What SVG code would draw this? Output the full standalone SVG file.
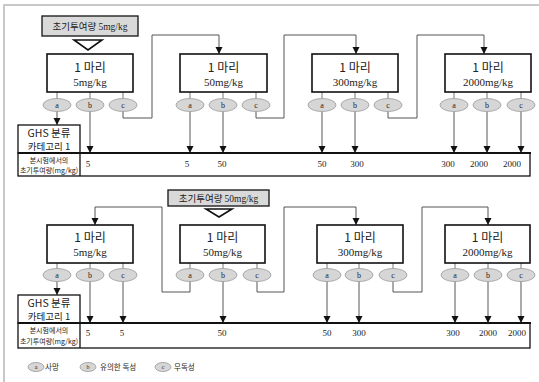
<svg xmlns="http://www.w3.org/2000/svg" width="539" height="382" viewBox="0 0 539 382">
<style>
.frame{fill:#fff;stroke:#c8c8c8;stroke-width:2}
.box{fill:#fff;stroke:#111;stroke-width:1.6}
.lbl{fill:#d9d9d9;stroke:#222;stroke-width:1.4}
.tri{fill:#fff;stroke:#111;stroke-width:1.6}
.ell{fill:#d6d6d6;stroke:#999;stroke-width:0.8}
.tick{stroke:#777;stroke-width:1;fill:none}
.con{stroke:#555;stroke-width:1;fill:none;marker-end:url(#ah)}
.arr{stroke:#666;stroke-width:1.1;fill:none;marker-end:url(#ah)}
.bar{fill:#fff;stroke:#111;stroke-width:1.3}
.thick{stroke:#111;stroke-width:2.2}
.t{font-family:"Liberation Serif","Noto Sans CJK KR",serif;fill:#222;text-anchor:middle}
.k{font-family:"Noto Sans CJK KR","Liberation Sans",sans-serif;fill:#222;text-anchor:middle}
.n1{font-size:12px}
.n2{font-size:11px}
.g1{font-size:10.5px}
.g2{font-size:9.5px}
.lt{font-size:9.5px}
.v{font-size:9px}
.e{font-size:8px}
.s{font-size:7px}
.lg{font-size:7.5px;text-anchor:start}
</style>
<defs>
<marker id="ah" markerWidth="8" markerHeight="8" refX="7" refY="3.5" orient="auto" markerUnits="userSpaceOnUse">
<path d="M0,0 L7,3.5 L0,7 Z" fill="#111"/>
</marker>
</defs>
<rect class="frame" x="4" y="5" width="540" height="382"/>

<g id="connectors">
<path class="tick" d="M57,92V98.5M90,92V98.5M123,92V98.5M190,92V98.5M223,92V98.5M256,92V98.5M322,92V98.5M355,92V98.5M388,92V98.5M454,92V98.5M487,92V98.5M521,92V98.5"/>
<path class="arr" d="M57,111.5V125"/>
<path class="arr" d="M90,111.5V153"/>
<path class="arr" d="M190,111.5V153"/>
<path class="arr" d="M223,111.5V153"/>
<path class="arr" d="M322,111.5V153"/>
<path class="arr" d="M355,111.5V153"/>
<path class="arr" d="M454,111.5V153"/>
<path class="arr" d="M487,111.5V153"/>
<path class="arr" d="M521,111.5V153"/>
<path class="con" d="M123,111.5V118H152V35H219V54"/>
<path class="con" d="M256,111.5V118H284V35H356V54"/>
<path class="con" d="M388,111.5V118H417V35H484V54"/>
<path class="tick" d="M57,263V268.5M90,263V268.5M123,263V268.5M190,263V268.5M223,263V268.5M257,263V268.5M327,263V268.5M359,263V268.5M393,263V268.5M455,263V268.5M488,263V268.5M521,263V268.5"/>
<path class="arr" d="M57,281.5V295"/>
<path class="arr" d="M90,281.5V323"/>
<path class="arr" d="M123,281.5V323"/>
<path class="arr" d="M223,281.5V323"/>
<path class="arr" d="M327,281.5V323"/>
<path class="arr" d="M359,281.5V323"/>
<path class="arr" d="M455,281.5V323"/>
<path class="arr" d="M488,281.5V323"/>
<path class="arr" d="M521,281.5V323"/>
<path class="con" d="M190,281.5V292H162V207H95V225"/>
<path class="con" d="M257,281.5V292H284V207H356V225"/>
<path class="con" d="M393,281.5V292H422V207H488V225"/>
</g>

<g id="start1">
<rect class="lbl" x="42" y="16" width="96" height="20"/>
<text class="k lt" x="90" y="29.5">초기투여량 <tspan style="font-family:'Liberation Serif',serif">5mg/kg</tspan></text>
<path class="tri" d="M74,40H102L88,50Z"/>
</g>
<g id="t-node1">
<rect class="box" x="47" y="54" width="86" height="38"/>
<text class="k n1" x="90" y="72">1 마리</text>
<text class="t n2" x="90" y="86">5mg/kg</text>
<ellipse class="ell" cx="57" cy="105" rx="14" ry="6.5"/><text class="t e" x="57" y="108">a</text>
<ellipse class="ell" cx="90" cy="105" rx="14" ry="6.5"/><text class="t e" x="90" y="108">b</text>
<ellipse class="ell" cx="123" cy="105" rx="14" ry="6.5"/><text class="t e" x="123" y="108">c</text>
</g>
<g id="t-node2">
<rect class="box" x="180" y="54" width="87" height="38"/>
<text class="k n1" x="223.5" y="72">1 마리</text>
<text class="t n2" x="223.5" y="86">50mg/kg</text>
<ellipse class="ell" cx="190" cy="105" rx="14" ry="6.5"/><text class="t e" x="190" y="108">a</text>
<ellipse class="ell" cx="223" cy="105" rx="14" ry="6.5"/><text class="t e" x="223" y="108">b</text>
<ellipse class="ell" cx="256" cy="105" rx="14" ry="6.5"/><text class="t e" x="256" y="108">c</text>
</g>
<g id="t-node3">
<rect class="box" x="312" y="54" width="86" height="38"/>
<text class="k n1" x="355" y="72">1 마리</text>
<text class="t n2" x="355" y="86">300mg/kg</text>
<ellipse class="ell" cx="322" cy="105" rx="14" ry="6.5"/><text class="t e" x="322" y="108">a</text>
<ellipse class="ell" cx="355" cy="105" rx="14" ry="6.5"/><text class="t e" x="355" y="108">b</text>
<ellipse class="ell" cx="388" cy="105" rx="14" ry="6.5"/><text class="t e" x="388" y="108">c</text>
</g>
<g id="t-node4">
<rect class="box" x="445" y="54" width="86" height="38"/>
<text class="k n1" x="488" y="72">1 마리</text>
<text class="t n2" x="488" y="86">2000mg/kg</text>
<ellipse class="ell" cx="454" cy="105" rx="14" ry="6.5"/><text class="t e" x="454" y="108">a</text>
<ellipse class="ell" cx="487" cy="105" rx="14" ry="6.5"/><text class="t e" x="487" y="108">b</text>
<ellipse class="ell" cx="521" cy="105" rx="14" ry="6.5"/><text class="t e" x="521" y="108">c</text>
</g>
<g id="t-table">
<rect class="bar" x="18" y="125" width="62" height="28"/>
<text class="k g1" x="49" y="137">GHS 분류</text>
<text class="k g2" x="49" y="149.5">카테고리 1</text>
<rect class="bar" x="18" y="153" width="512" height="23"/>
<line class="bar" x1="80" y1="153" x2="80" y2="176"/>
<line class="thick" x1="18" y1="153" x2="531" y2="153"/>
<text class="k s" x="49" y="163">본시험에서의</text>
<text class="k s" x="49" y="173">초기투여량(mg/kg)</text>
<text class="t v" x="88" y="167">5</text>
<text class="t v" x="187" y="167">5</text>
<text class="t v" x="222" y="167">50</text>
<text class="t v" x="322" y="167">50</text>
<text class="t v" x="357" y="167">300</text>
<text class="t v" x="448" y="167">300</text>
<text class="t v" x="479" y="167">2000</text>
<text class="t v" x="512" y="167">2000</text>
</g>

<g id="start2">
<rect class="lbl" x="168" y="190" width="101" height="16"/>
<text class="k lt" x="218.5" y="201.5">초기투여량 <tspan style="font-family:'Liberation Serif',serif">50mg/kg</tspan></text>
<path class="tri" d="M206,209H232L219,217Z"/>
</g>
<g id="b-node1">
<rect class="box" x="47" y="225" width="86" height="38"/>
<text class="k n1" x="90" y="242">1 마리</text>
<text class="t n2" x="90" y="256">5mg/kg</text>
<ellipse class="ell" cx="57" cy="275" rx="14" ry="6.5"/><text class="t e" x="57" y="278">a</text>
<ellipse class="ell" cx="90" cy="275" rx="14" ry="6.5"/><text class="t e" x="90" y="278">b</text>
<ellipse class="ell" cx="123" cy="275" rx="14" ry="6.5"/><text class="t e" x="123" y="278">c</text>
</g>
<g id="b-node2">
<rect class="box" x="180" y="225" width="85" height="38"/>
<text class="k n1" x="222.5" y="242">1 마리</text>
<text class="t n2" x="222.5" y="256">50mg/kg</text>
<ellipse class="ell" cx="190" cy="275" rx="14" ry="6.5"/><text class="t e" x="190" y="278">a</text>
<ellipse class="ell" cx="223" cy="275" rx="14" ry="6.5"/><text class="t e" x="223" y="278">b</text>
<ellipse class="ell" cx="257" cy="275" rx="14" ry="6.5"/><text class="t e" x="257" y="278">c</text>
</g>
<g id="b-node3">
<rect class="box" x="317" y="225" width="86" height="38"/>
<text class="k n1" x="360" y="242">1 마리</text>
<text class="t n2" x="360" y="256">300mg/kg</text>
<ellipse class="ell" cx="327" cy="275" rx="14" ry="6.5"/><text class="t e" x="327" y="278">a</text>
<ellipse class="ell" cx="359" cy="275" rx="14" ry="6.5"/><text class="t e" x="359" y="278">b</text>
<ellipse class="ell" cx="393" cy="275" rx="14" ry="6.5"/><text class="t e" x="393" y="278">c</text>
</g>
<g id="b-node4">
<rect class="box" x="445" y="225" width="85" height="38"/>
<text class="k n1" x="487.5" y="242">1 마리</text>
<text class="t n2" x="487.5" y="256">2000mg/kg</text>
<ellipse class="ell" cx="455" cy="275" rx="14" ry="6.5"/><text class="t e" x="455" y="278">a</text>
<ellipse class="ell" cx="488" cy="275" rx="14" ry="6.5"/><text class="t e" x="488" y="278">b</text>
<ellipse class="ell" cx="521" cy="275" rx="14" ry="6.5"/><text class="t e" x="521" y="278">c</text>
</g>
<g id="b-table">
<rect class="bar" x="18" y="295" width="62" height="28"/>
<text class="k g1" x="49" y="307">GHS 분류</text>
<text class="k g2" x="49" y="319.5">카테고리 1</text>
<rect class="bar" x="18" y="323" width="512" height="25"/>
<line class="bar" x1="80" y1="323" x2="80" y2="348"/>
<line class="thick" x1="18" y1="323" x2="531" y2="323"/>
<text class="k s" x="49" y="333">본시험에서의</text>
<text class="k s" x="49" y="344">초기투여량(mg/kg)</text>
<text class="t v" x="88" y="336">5</text>
<text class="t v" x="122" y="336">5</text>
<text class="t v" x="222" y="336">50</text>
<text class="t v" x="327" y="336">50</text>
<text class="t v" x="359" y="336">300</text>
<text class="t v" x="453" y="336">300</text>
<text class="t v" x="488" y="336">2000</text>
<text class="t v" x="517" y="336">2000</text>
</g>

<g id="legend">
<ellipse class="ell" cx="36" cy="367" rx="8" ry="4.5"/><text class="t" style="font-size:6px" x="36" y="369">a</text>
<text class="k lg" x="45" y="370">사망</text>
<ellipse class="ell" cx="88" cy="367" rx="8" ry="4.5"/><text class="t" style="font-size:6px" x="88" y="369">b</text>
<text class="k lg" x="100" y="370">유의한 독성</text>
<ellipse class="ell" cx="163" cy="367" rx="8" ry="4.5"/><text class="t" style="font-size:6px" x="163" y="369">c</text>
<text class="k lg" x="174" y="370">무독성</text>
</g>
</svg>
